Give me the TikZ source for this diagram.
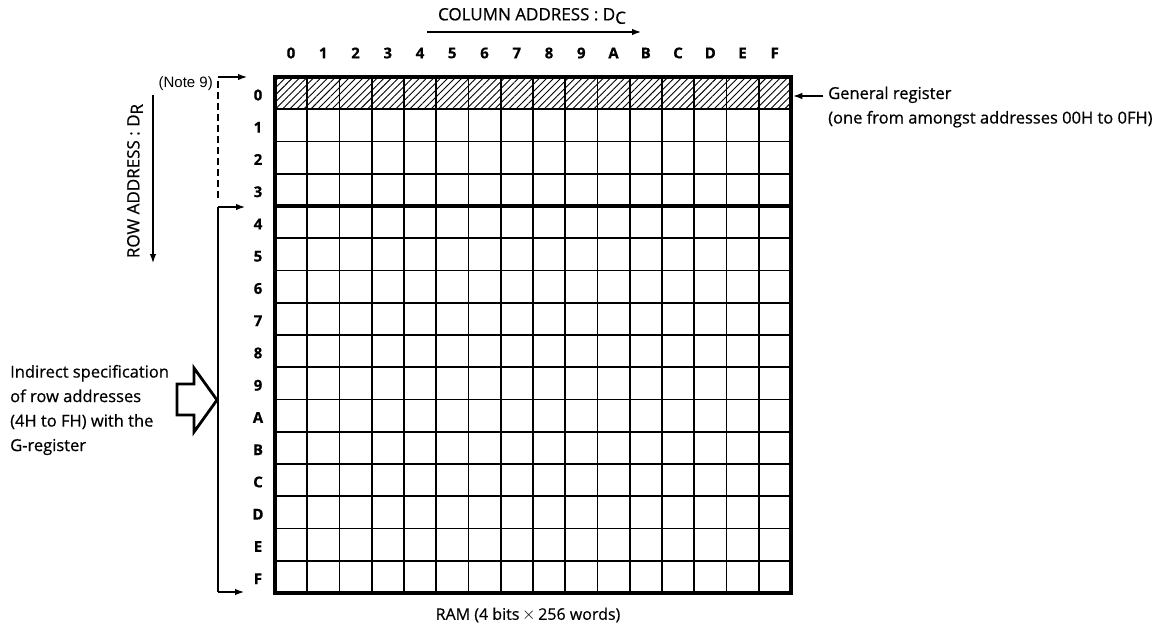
\documentclass[tikz,border=0pt]{standalone}
\usepackage{fontspec}
\setmainfont{Open Sans}[FakeBold=0.6]
\newfontfamily\notefont{Liberation Sans}
\usetikzlibrary{positioning,arrows.meta,patterns.meta,calc}

\newcommand{\sub}[1]{\raisebox{-3.5pt}{#1}}

\begin{document}
\begin{tikzpicture}[x=1pt, y=-1pt,
  font=\fontsize{17}{20}\selectfont,
  idx/.style={font=\fontsize{15}{17}\selectfont\bfseries, inner sep=0pt},
  txt/.style={align=left, anchor=west, inner sep=0pt, font=\fontsize{16.5}{24.5}\selectfont},
  arr/.style={-{Latex[length=9pt, width=6.5pt]}, line width=1.2pt},
  cell/.style={line width=1.8pt},
  frame/.style={draw, line width=4.5pt, minimum width=516, minimum height=516, inner sep=0pt}]

\useasboundingbox (0,0) rectangle (1171,632);

% RAM array: 16 rows x 16 columns
\fill[pattern={Lines[angle=45, distance=5pt, line width=0.9pt]}] (275,77) rectangle (791,109.25);
\foreach \i in {1,...,15} {
  \draw[cell] (275+\i*32.25,77) -- (275+\i*32.25,593);
  \draw[cell] (275,77+\i*32.25) -- (791,77+\i*32.25);
}
\draw[line width=3.5pt] (275,206) -- (791,206);
\node[frame] (ram) at (533,335) {};

% Column and row indices
\foreach \c [count=\i from 0] in {0,1,2,3,4,5,6,7,8,9,A,B,C,D,E,F} {
  \node[idx] (col\c) at (291+\i*32.25,53) {\c};
  \node[idx] (row\c) at (258,95+\i*32.25) {\c};
}

% Address directions
\node (coladdr) at (532,16) {COLUMN ADDRESS : D\sub{C}};
\coordinate (colS) at (427,32);
\coordinate (colE) at (641,32);
\draw[arr] (colS) -- (colE);

\node[rotate=90] (rowaddr) at (135,181) {ROW ADDRESS : D\sub{R}};
\coordinate (rowS) at (153,95);
\coordinate (rowE) at (153,263);
\draw[arr] (rowS) -- (rowE);

% Note 9: general register row
\node[font=\notefont\fontsize{15}{17}\selectfont, anchor=east, inner sep=0pt] (note) at (213,84) {(Note 9)};
\coordinate (dashB) at (218,198);
\coordinate (dashT) at (218,77);
\coordinate (dashE) at (247,77);
\draw[line width=1.3pt, dash pattern=on 7pt off 4pt] (dashB) -- (dashT);
\draw[arr] (dashT) -- (dashE);

% Bracket for rows 4H to FH
\coordinate (brT) at (218,207);
\coordinate (brB) at (218,592);
\coordinate (brTE) at (245,207);
\coordinate (brBE) at (244,592);
\draw[line width=1.3pt] (brT) -- (brB);
\draw[arr] (brT) -- (brTE);
\draw[arr] (brB) -- (brBE);

% General register label
\node[txt] (genreg) at (828,107) {General register\\(one from amongst addresses 00H to 0FH)};
\coordinate (grS) at (823,96);
\draw[arr] (grS) -- (ram.east |- grS);

% Indirect specification
\node[txt] (indir) at (10,410) {Indirect specification\\of row addresses\\(4H to FH) with the\\G-register};
\draw[line width=2.8pt, line join=miter] (177,384) -- (194,384) -- (194,368) -- (217,400) -- (194,432) -- (194,415) -- (177,415) -- cycle;

% Caption
\node[font=\fontsize{16}{19}\selectfont] (cap) at (528,615) {RAM (4 bits\,$\times$\,256 words)};
\end{tikzpicture}
\end{document}
